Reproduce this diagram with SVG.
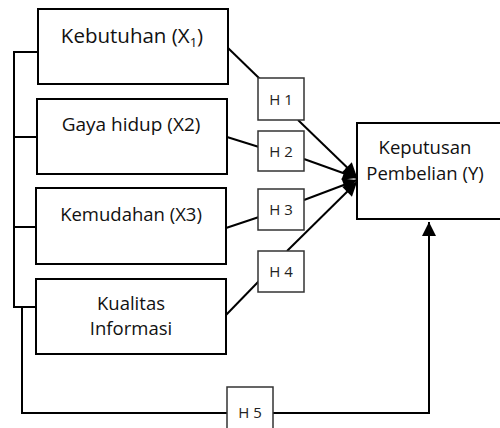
<svg xmlns="http://www.w3.org/2000/svg" width="500" height="428" viewBox="0 0 500 428">
<style>
  .box { fill: #fff; stroke: #000; stroke-width: 2; }
  .hbox { fill: #fff; stroke: #333; stroke-width: 1.5; }
  .ln { fill: none; stroke: #000; stroke-width: 2; }
  .t { font-family: "Open Sans", "Liberation Sans", sans-serif; font-size: 18.5px; fill: #111; text-anchor: middle; }
  .k { font-size: 20.5px; }
  .g { font-size: 19px; }
  .h { font-family: "Open Sans", "Liberation Sans", sans-serif; font-size: 15px; fill: #222; text-anchor: middle; }
</style>
<defs>
  <marker id="arr" markerUnits="userSpaceOnUse" markerWidth="16" markerHeight="16" viewBox="0 0 16 16" refX="15" refY="8" orient="auto">
    <path d="M1,1 L15,8 L1,15 Z" fill="#000"/>
  </marker>
</defs>
<g id="connectors">
  <polyline class="ln" points="38,52 14,52 14,307 36,307"/>
  <line class="ln" x1="14" y1="137" x2="37" y2="137"/>
  <line class="ln" x1="14" y1="227" x2="36" y2="227"/>
  <polyline class="ln" points="22,307 22,413 228,413"/>
  <polyline class="ln" points="273,413 429,413 429,222" marker-end="url(#arr)"/>
  <line class="ln" x1="228" y1="48" x2="260" y2="79"/>
  <line class="ln" x1="298" y1="120" x2="357" y2="177" marker-end="url(#arr)"/>
  <line class="ln" x1="227" y1="137" x2="259" y2="147"/>
  <line class="ln" x1="304" y1="159" x2="357" y2="178" marker-end="url(#arr)"/>
  <line class="ln" x1="226" y1="228" x2="259" y2="217"/>
  <line class="ln" x1="304" y1="200" x2="357" y2="180" marker-end="url(#arr)"/>
  <line class="ln" x1="226" y1="315" x2="259" y2="281"/>
  <line class="ln" x1="287" y1="251" x2="357" y2="182" marker-end="url(#arr)"/>
</g>
<g id="x1">
  <rect class="box" x="38" y="9" width="190" height="75"/>
  <text class="t k" x="132" y="43">Kebutuhan (X<tspan font-size="13" dy="4">1</tspan><tspan dy="-4">)</tspan></text>
</g>
<g id="x2">
  <rect class="box" x="37" y="99" width="190" height="75"/>
  <text class="t g" x="131" y="131">Gaya hidup (X2)</text>
</g>
<g id="x3">
  <rect class="box" x="36" y="188" width="190" height="76"/>
  <text class="t" x="131" y="221">Kemudahan (X3)</text>
</g>
<g id="x4">
  <rect class="box" x="36" y="279" width="190" height="75"/>
  <text class="t" x="131" y="310">Kualitas</text>
  <text class="t" x="131" y="335">Informasi</text>
</g>
<g id="y">
  <rect class="box" x="357" y="123" width="160" height="96"/>
  <text class="t" x="425" y="154">Keputusan</text>
  <text class="t" x="425" y="180">Pembelian (Y)</text>
</g>
<g id="h1">
  <rect class="hbox" x="258" y="78" width="46" height="42"/>
  <text class="h" x="281" y="105">H 1</text>
</g>
<g id="h2">
  <rect class="hbox" x="258" y="131" width="46" height="40"/>
  <text class="h" x="281" y="157">H 2</text>
</g>
<g id="h3">
  <rect class="hbox" x="258" y="189" width="46" height="41"/>
  <text class="h" x="281" y="215">H 3</text>
</g>
<g id="h4">
  <rect class="hbox" x="258" y="251" width="46" height="41"/>
  <text class="h" x="281" y="277">H 4</text>
</g>
<g id="h5">
  <rect class="hbox" x="227" y="387" width="46" height="50"/>
  <text class="h" x="250" y="418">H 5</text>
</g>
</svg>
